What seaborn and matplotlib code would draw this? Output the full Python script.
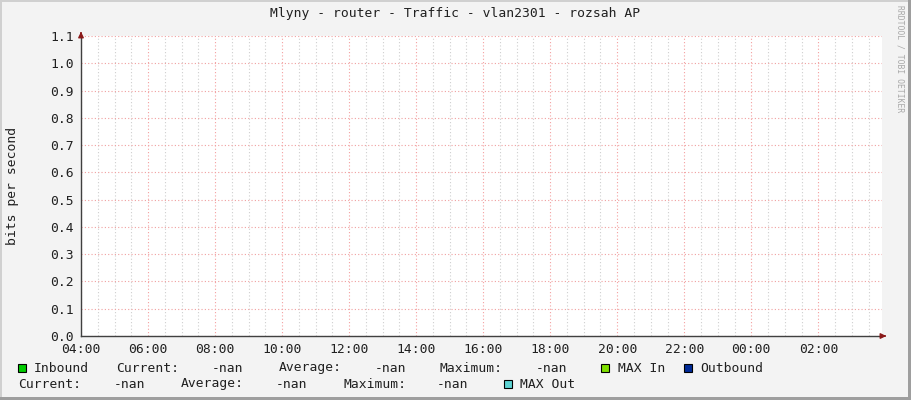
import numpy as np
import pandas as pd
import matplotlib
matplotlib.use('Agg')
import matplotlib.pyplot as plt
from matplotlib.patches import Rectangle
import seaborn as sns

# time axis: hours after 04:00, ticks every 2 hours
tick_hours = [0, 2, 4, 6, 8, 10, 12, 14, 16, 18, 20, 22]
tick_labels = ['04:00', '06:00', '08:00', '10:00', '12:00', '14:00',
               '16:00', '18:00', '20:00', '22:00', '00:00', '02:00']
y_ticks = [0.0, 0.1, 0.2, 0.3, 0.4, 0.5, 0.6, 0.7, 0.8, 0.9, 1.0, 1.1]

# no samples in the rrd: every value is nan
inbound = [np.nan] * 12
outbound = [np.nan] * 12
max_in = [np.nan] * 12
max_out = [np.nan] * 12

series_names = ['Inbound', 'MAX In', 'Outbound', 'MAX Out']
series_colors = ['#00cc00', '#7fe000', '#002a97', '#5ed3d3']
stat_current = '-nan'
stat_average = '-nan'
stat_maximum = '-nan'

sns.set_theme(style='white')
plt.rcParams['font.family'] = ['DejaVu Sans Mono']
fs = 9.4

fig = plt.figure(figsize=(9.11, 4.0), dpi=100, facecolor='#f3f3f3')
W, H = 911, 400
ax = fig.add_axes([81 / W, 1 - 336 / H, (882 - 81) / W, (336 - 36) / H])
ax.set_facecolor('white')

df = pd.DataFrame({'hour': tick_hours, 'Inbound': inbound, 'MAX In': max_in,
                   'Outbound': outbound, 'MAX Out': max_out})
for name, col in zip(series_names, series_colors):
    if df[name].notna().any():
        sns.lineplot(data=df, x='hour', y=name, color=col, ax=ax)

ax.set_xlim(0, 23.9)
ax.set_ylim(0, 1.1)

# minor grid every 30 min, major red grid at labelled ticks
for h in np.arange(0, 24, 0.5):
    major = h in tick_hours
    ax.axvline(h, color='#f4a0a0' if major else '#cfcfcf', lw=0.8,
               ls=(0, (1, 2)), zorder=0)
for v in y_ticks:
    ax.axhline(v, color='#f0a0a0', lw=0.8, ls=(0, (1, 2)), zorder=0)

ax.set_xticks(tick_hours)
ax.set_xticklabels(tick_labels, fontsize=fs, color='#202020')
ax.set_yticks(y_ticks)
ax.set_yticklabels([f'{v:.1f}' for v in y_ticks], fontsize=fs, color='#202020')
ax.tick_params(axis='both', length=2, width=0.8, color='#e08080', pad=3)
for s in ['top', 'right']:
    ax.spines[s].set_visible(False)
for s in ['left', 'bottom']:
    ax.spines[s].set_color('#404040')
    ax.spines[s].set_linewidth(1)

# axis arrows (figure pixels counted from the bottom)
ax.annotate('', xy=(889, H - 336), xytext=(882, H - 336), xycoords='figure pixels',
            arrowprops=dict(arrowstyle='-|>', color='#8b1a1a', lw=1, mutation_scale=8))
ax.annotate('', xy=(81, H - 29), xytext=(81, H - 36), xycoords='figure pixels',
            arrowprops=dict(arrowstyle='-|>', color='#8b1a1a', lw=1, mutation_scale=8))
ax.set_ylabel('bits per second', fontsize=fs, color='#202020')
ax.yaxis.set_label_coords(-(81 - 19) / (882 - 81), 0.5)
ax.set_xlabel('')

fig.text(455 / W, 1 - 14 / H, 'Mlyny - router - Traffic - vlan2301 - rozsah AP',
         ha='center', va='center', fontsize=fs, color='#202020')
fig.text(900 / W, 1 - 5 / H, 'RRDTOOL / TOBI OETIKER', rotation=270,
         ha='center', va='top', fontsize=5.8, color='#a8a8a8')

def put(x, y, s):
    fig.text(x / W, 1 - y / H, s, ha='left', va='center', fontsize=fs, color='#202020')

def swatch(x, y, color):
    fig.patches.append(Rectangle((x / W, 1 - (y + 4) / H), 8 / W, 8 / H,
                                 transform=fig.transFigure, facecolor=color,
                                 edgecolor='black', lw=0.8))

r1, r2 = 368, 384
swatch(18, r1, series_colors[0]); put(34, r1, series_names[0])
put(116, r1, 'Current:'); put(212, r1, stat_current)
put(279, r1, 'Average:'); put(375, r1, stat_average)
put(440, r1, 'Maximum:'); put(536, r1, stat_maximum)
swatch(601, r1, series_colors[1]); put(618, r1, series_names[1])
swatch(684, r1, series_colors[2]); put(700, r1, series_names[2])
put(18, r2, 'Current:'); put(114, r2, stat_current)
put(181, r2, 'Average:'); put(276, r2, stat_average)
put(343, r2, 'Maximum:'); put(437, r2, stat_maximum)
swatch(504, r2, series_colors[3]); put(520, r2, series_names[3])

# rrdtool style shaded frame
fig.patches.append(Rectangle((0, 1 - 2 / H), 1, 2 / H, transform=fig.transFigure,
                             facecolor='#d0d0d0', edgecolor='none'))
fig.patches.append(Rectangle((0, 0), 2 / W, 1, transform=fig.transFigure,
                             facecolor='#d0d0d0', edgecolor='none'))
fig.patches.append(Rectangle((0, 0), 1, 3 / H, transform=fig.transFigure,
                             facecolor='#9e9e9e', edgecolor='none'))
fig.patches.append(Rectangle((1 - 3 / W, 0), 3 / W, 1, transform=fig.transFigure,
                             facecolor='#9e9e9e', edgecolor='none'))

fig.savefig('out.png', dpi=100, facecolor=fig.get_facecolor())
